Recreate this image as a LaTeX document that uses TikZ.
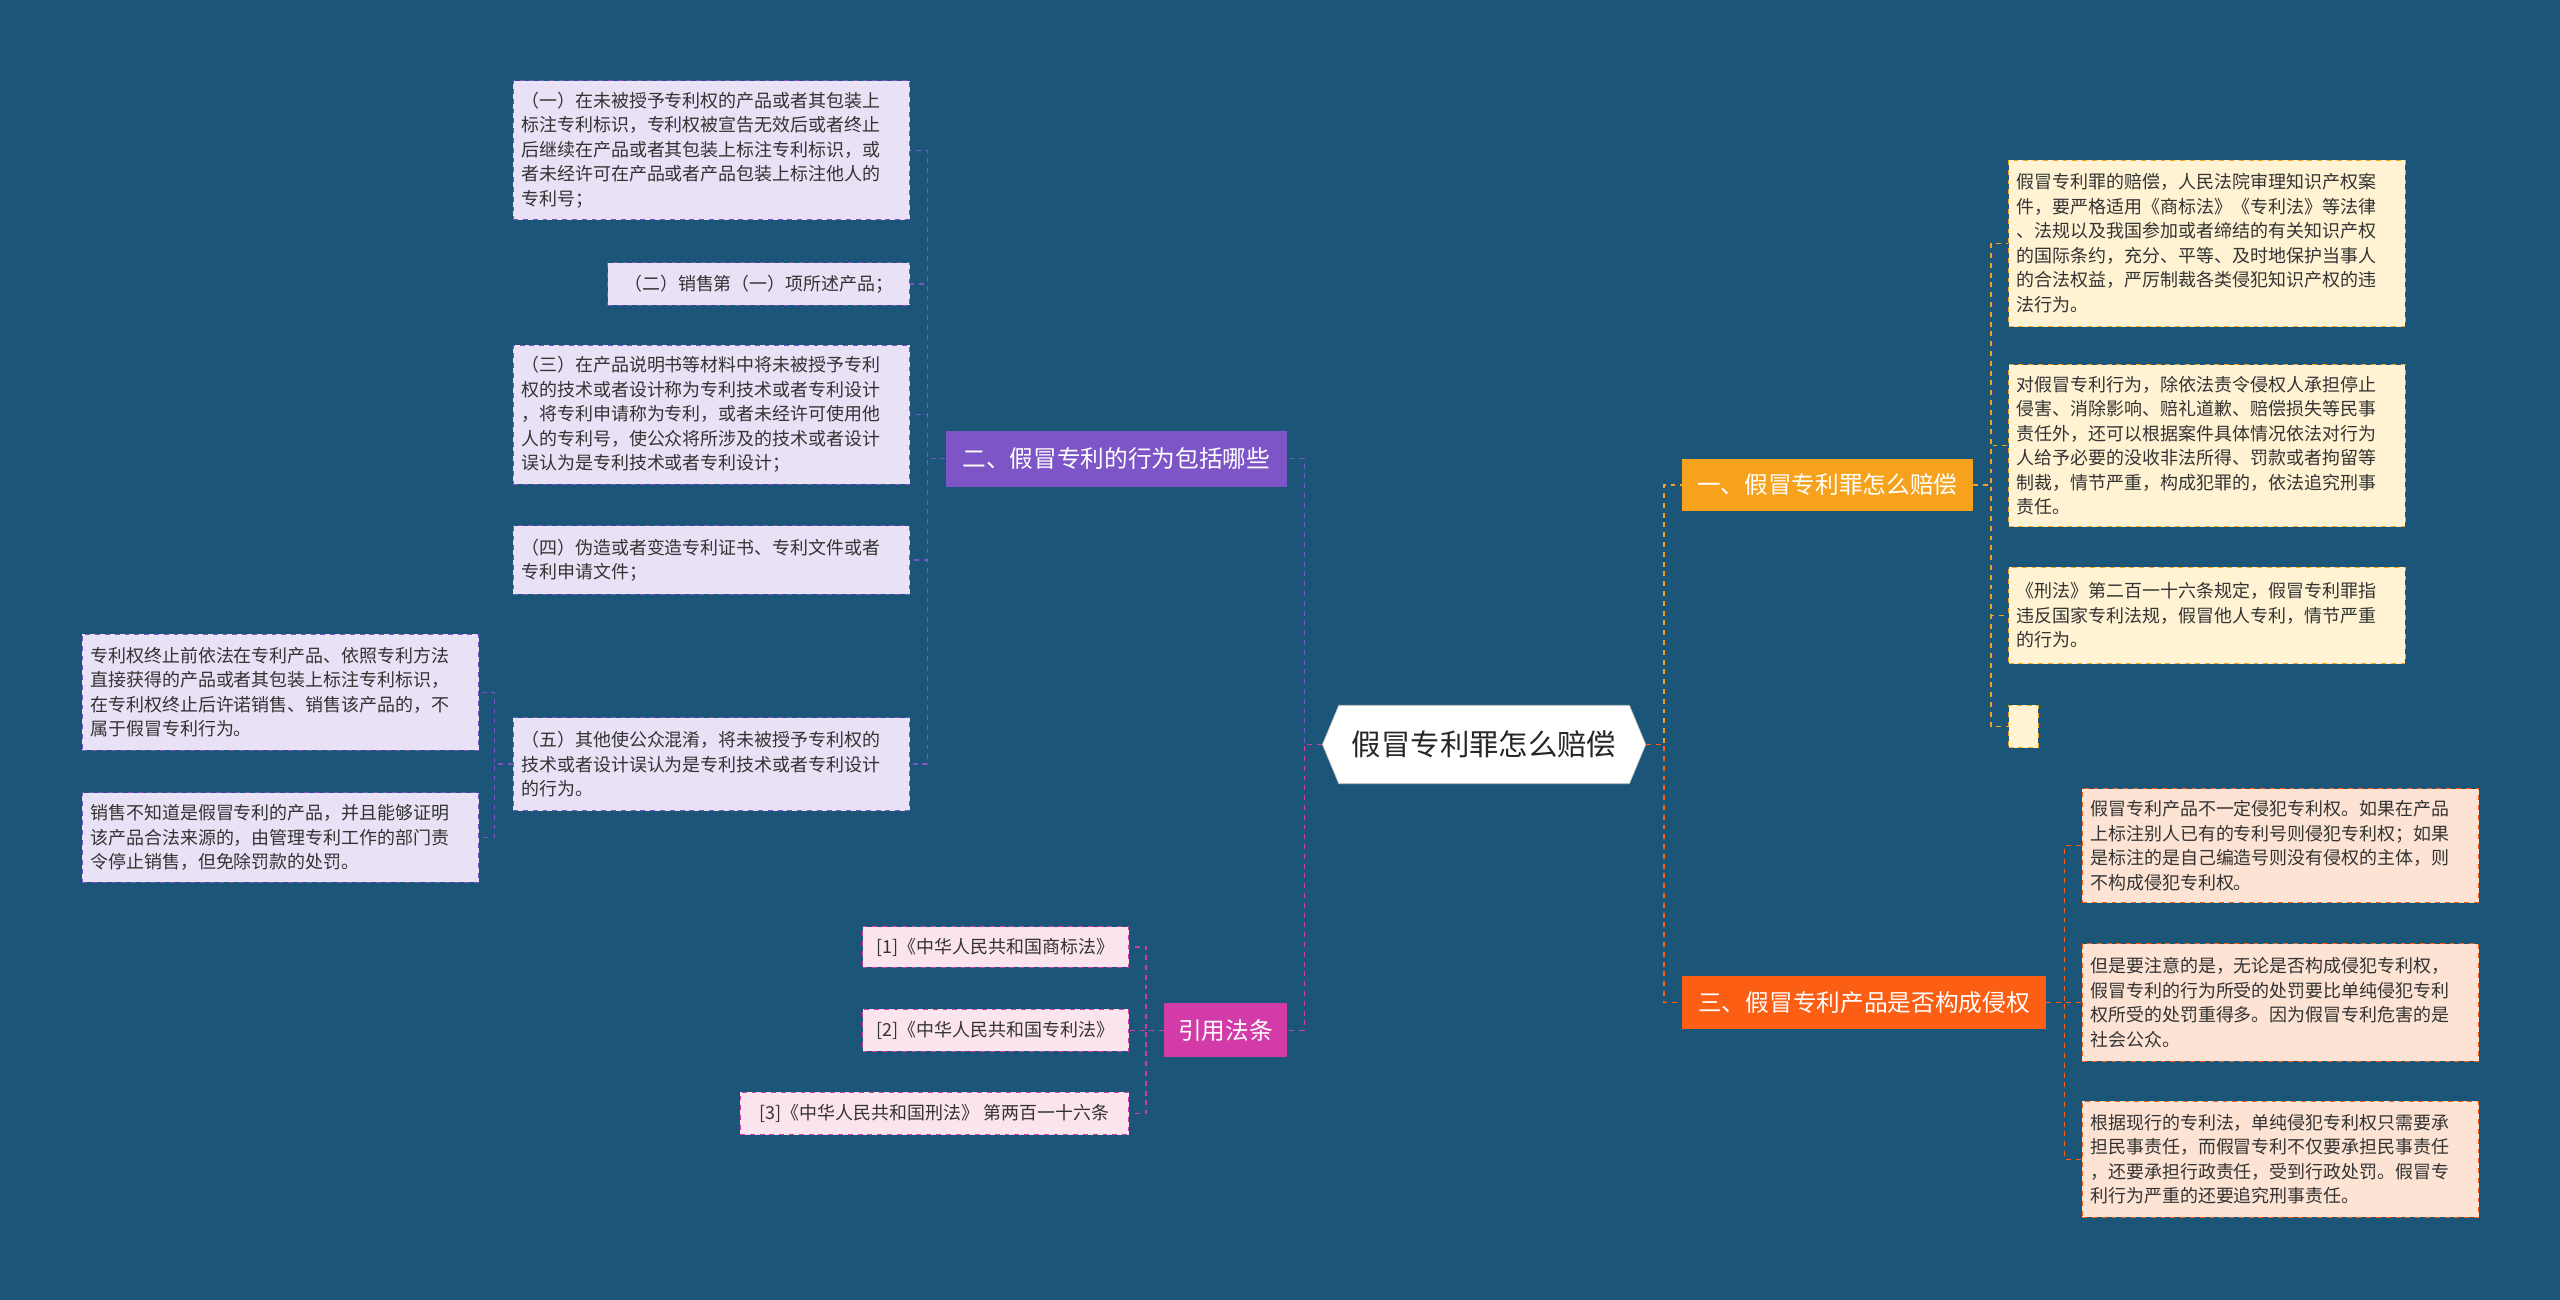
\documentclass[tikz,border=0pt]{standalone}
\usepackage{fontspec}
\setmainfont{Noto Sans CJK SC}
\begin{document}
\begin{tikzpicture}[x=1pt,y=-1pt,
  leaf/.style={draw=#1,dashed,line width=0.6pt,anchor=west,align=left,inner xsep=5pt,inner ysep=4pt,font=\fontsize{11}{15}\selectfont,text=black!80},
  conn/.style={draw=#1,dashed,line width=0.8pt},
  br/.style={fill=#1,text=white,font=\fontsize{14.5}{18}\selectfont,inner sep=0pt,anchor=west}]
\definecolor{bg}{HTML}{1B5678}
\definecolor{orA}{HTML}{F6A21D}
\definecolor{orB}{HTML}{FC5E14}
\definecolor{pu}{HTML}{7D55C7}
\definecolor{mg}{HTML}{D33BA8}
\definecolor{ly}{HTML}{FFF3D4}
\definecolor{lp}{HTML}{FDE3D4}
\definecolor{lv}{HTML}{E9E1F5}
\definecolor{lk}{HTML}{FCE4EF}
\fill[bg] (0,0) rectangle (1568,796);
\useasboundingbox (0,0) rectangle (1568,796);
% center
\fill[white,draw=black!25] (810,456) -- (820,432) -- (998,432) -- (1008,456) -- (998,480) -- (820,480) -- cycle;
\node[font=\fontsize{18}{22}\selectfont,text=black!85,minimum width=198pt,minimum height=48pt,inner sep=0pt] (c) at (909,456) {假冒专利罪怎么赔偿};
% branches
\node[br=orA,minimum width=178pt,minimum height=32pt] (b1) at (1030,297) {一、假冒专利罪怎么赔偿};
\node[br=orB,minimum width=223pt,minimum height=33pt] (b3) at (1030,614) {三、假冒专利产品是否构成侵权};
\node[br=pu,minimum width=209pt,minimum height=34pt] (b2) at (579,281) {二、假冒专利的行为包括哪些};
\node[br=mg,minimum width=75pt,minimum height=33pt] (b4) at (713,631) {引用法条};
% right leaves branch 1
\node[leaf=orA,fill=ly,text width=233pt,minimum height=102pt] (r1) at (1230,149) {假冒专利罪的赔偿，人民法院审理知识产权案\\件，要严格适用《商标法》《专利法》等法律\\、法规以及我国参加或者缔结的有关知识产权\\的国际条约，充分、平等、及时地保护当事人\\的合法权益，严厉制裁各类侵犯知识产权的违\\法行为。};
\node[leaf=orA,fill=ly,text width=233pt,minimum height=99pt] (r2) at (1230,273) {对假冒专利行为，除依法责令侵权人承担停止\\侵害、消除影响、赔礼道歉、赔偿损失等民事\\责任外，还可以根据案件具体情况依法对行为\\人给予必要的没收非法所得、罚款或者拘留等\\制裁，情节严重，构成犯罪的，依法追究刑事\\责任。};
\node[leaf=orA,fill=ly,text width=233pt,minimum height=59pt] (r3) at (1230,377) {《刑法》第二百一十六条规定，假冒专利罪指\\违反国家专利法规，假冒他人专利，情节严重\\的行为。};
\node[leaf=orA,fill=ly,minimum width=18pt,minimum height=26pt,inner sep=0pt] (r4) at (1230,445) {};
% right leaves branch 3
\node[leaf=orB,fill=lp,text width=233pt,minimum height=70pt] (p1) at (1275,518) {假冒专利产品不一定侵犯专利权。如果在产品\\上标注别人已有的专利号则侵犯专利权；如果\\是标注的是自己编造号则没有侵权的主体，则\\不构成侵犯专利权。};
\node[leaf=orB,fill=lp,text width=233pt,minimum height=72pt] (p2) at (1275,614) {但是要注意的是，无论是否构成侵犯专利权，\\假冒专利的行为所受的处罚要比单纯侵犯专利\\权所受的处罚重得多。因为假冒专利危害的是\\社会公众。};
\node[leaf=orB,fill=lp,text width=233pt,minimum height=71pt] (p3) at (1275,710) {根据现行的专利法，单纯侵犯专利权只需要承\\担民事责任，而假冒专利不仅要承担民事责任\\，还要承担行政责任，受到行政处罚。假冒专\\利行为严重的还要追究刑事责任。};
% left leaves branch 2
\node[leaf=pu,fill=lv,text width=233pt,minimum height=85pt] (l1) at (314,92) {（一）在未被授予专利权的产品或者其包装上\\标注专利标识，专利权被宣告无效后或者终止\\后继续在产品或者其包装上标注专利标识，或\\者未经许可在产品或者产品包装上标注他人的\\专利号；};
\node[leaf=pu,fill=lv,minimum width=185pt,minimum height=26pt] (l2) at (372,174) {（二）销售第（一）项所述产品；};
\node[leaf=pu,fill=lv,text width=233pt,minimum height=85pt] (l3) at (314,254) {（三）在产品说明书等材料中将未被授予专利\\权的技术或者设计称为专利技术或者专利设计\\，将专利申请称为专利，或者未经许可使用他\\人的专利号，使公众将所涉及的技术或者设计\\误认为是专利技术或者专利设计；};
\node[leaf=pu,fill=lv,text width=233pt,minimum height=42pt] (l4) at (314,343) {（四）伪造或者变造专利证书、专利文件或者\\专利申请文件；};
\node[leaf=pu,fill=lv,text width=233pt,minimum height=57pt] (l5) at (314,468) {（五）其他使公众混淆，将未被授予专利权的\\技术或者设计误认为是专利技术或者专利设计\\的行为。};
\node[leaf=pu,fill=lv,text width=233pt,minimum height=71pt] (l6) at (50,424) {专利权终止前依法在专利产品、依照专利方法\\直接获得的产品或者其包装上标注专利标识，\\在专利权终止后许诺销售、销售该产品的，不\\属于假冒专利行为。};
\node[leaf=pu,fill=lv,text width=233pt,minimum height=55pt] (l7) at (50,513) {销售不知道是假冒专利的产品，并且能够证明\\该产品合法来源的，由管理专利工作的部门责\\令停止销售，但免除罚款的处罚。};
% refs
\node[leaf=mg,fill=lk,minimum width=163pt,minimum height=25pt] (f1) at (528,580) {[1]《中华人民共和国商标法》};
\node[leaf=mg,fill=lk,minimum width=163pt,minimum height=26pt] (f2) at (528,631) {[2]《中华人民共和国专利法》};
\node[leaf=mg,fill=lk,minimum width=238pt,minimum height=26pt] (f3) at (453,682) {[3]《中华人民共和国刑法》 第两百一十六条};
% connectors
\draw[conn=orA] (c.east) -- ++(11,0) |- (b1.west);
\draw[conn=orB] (c.east) -- ++(11,0) |- (b3.west);
\draw[conn=pu] (c.west) -- ++(-11,0) |- (b2.east);
\draw[conn=mg] (c.west) -- ++(-11,0) |- (b4.east);
\foreach \n in {r1,r2,r3,r4} \draw[conn=orA] (b1.east) -- ++(11,0) |- (\n.west);
\foreach \n in {p1,p2,p3} \draw[conn=orB] (b3.east) -- ++(11,0) |- (\n.west);
\foreach \n in {l1,l2,l3,l4,l5} \draw[conn=pu] (b2.west) -- ++(-11,0) |- (\n.east);
\foreach \n in {l6,l7} \draw[conn=pu] (l5.west) -- ++(-11,0) |- (\n.east);
\foreach \n in {f1,f2,f3} \draw[conn=mg] (b4.west) -- ++(-11,0) |- (\n.east);
\end{tikzpicture}
\end{document}
